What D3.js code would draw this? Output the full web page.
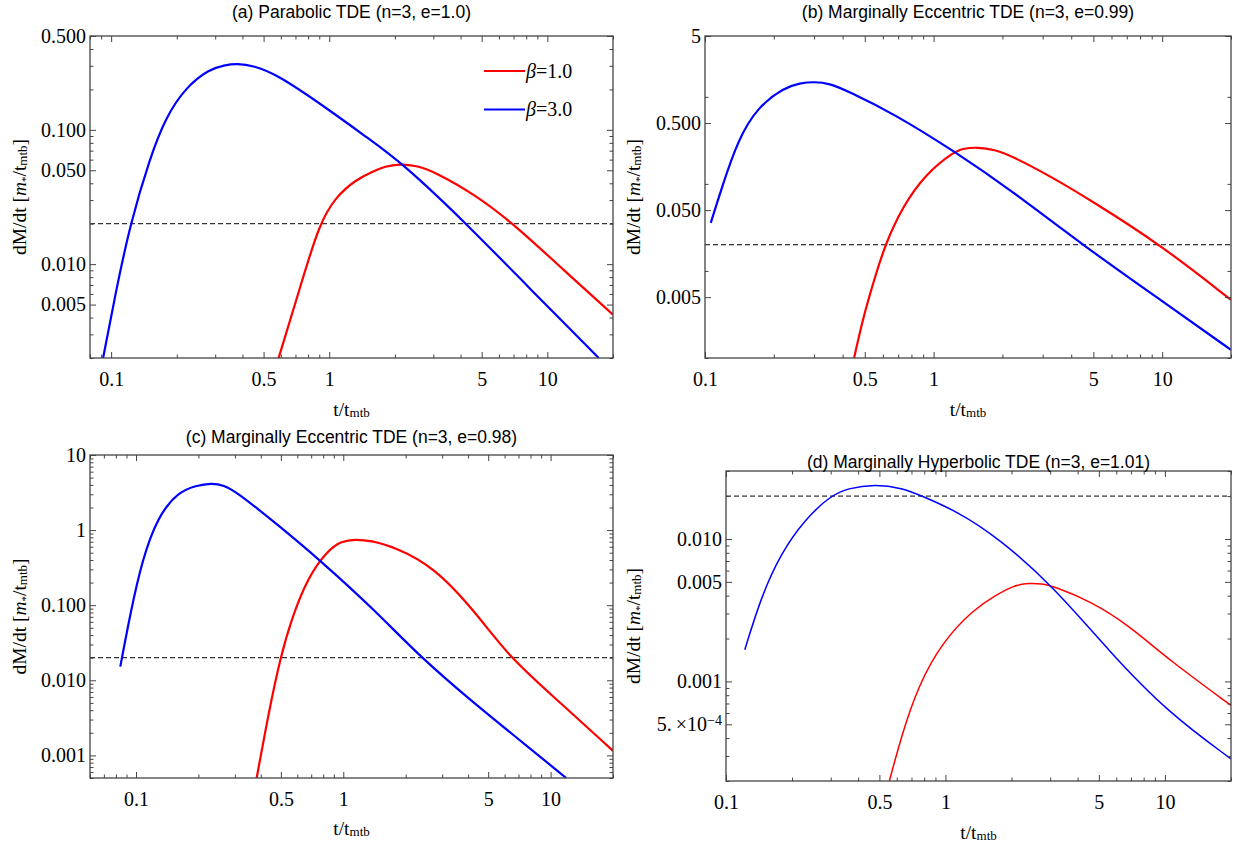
<!DOCTYPE html>
<html>
<head>
<meta charset="utf-8">
<script src="https://cdn.jsdelivr.net/npm/d3@7"></script>
<style>
  body { margin: 0; background: #fff; }
  .tick text { font-family: "Liberation Serif", "Times New Roman", serif; font-size: 20px; fill: #000; }
  .title { font-family: "Liberation Sans", Arial, sans-serif; font-size: 17.5px; fill: #000; }
  .serif { font-family: "Liberation Serif", "Times New Roman", serif; font-size: 19.5px; fill: #000; }
</style>
</head>
<body>
<svg id="chart"></svg>
<script>
/* tick labels */
var xTickVals = [0.1, 0.5, 1, 5, 10];
var xTickText = ["0.1", "0.5", "1", "5", "10"];

var aYTickVals = [0.5, 0.1, 0.05, 0.01, 0.005];
var aYTickText = ["0.500", "0.100", "0.050", "0.010", "0.005"];
var bYTickVals = [5, 0.5, 0.05, 0.005];
var bYTickText = ["5", "0.500", "0.050", "0.005"];
var bYMinorVals = [1, 0.1, 0.01, 0.001];
var cYTickVals = [10, 1, 0.1, 0.01, 0.001];
var cYTickText = ["10", "1", "0.100", "0.010", "0.001"];
var dYTickVals = [0.01, 0.005, 0.001, 0.0005];
var dYTickText = ["0.010", "0.005", "0.001", "5.×10^-4"];

var seriesNames = ["1.0", "3.0"];   // beta
var threshold = 0.02;               // dashed level

/* (a) parabolic, e=1.0 */
var aRedT  = [0.586, 0.737, 0.90, 1.07, 1.32, 1.6, 1.8, 2.1, 2.5, 3.04, 4.6, 7.0, 12, 20];
var aRedV  = [0.002, 0.0068, 0.02, 0.0316, 0.0424, 0.0494, 0.0534, 0.0557, 0.0543, 0.0487, 0.0334, 0.02, 0.0089, 0.0042];
var aBlueT = [0.0919, 0.105, 0.1224, 0.151, 0.178, 0.2195, 0.282, 0.33, 0.378, 0.45, 0.574, 0.986, 1.5, 2.18, 4.26, 8, 17.2];
var aBlueV = [0.002, 0.0062, 0.02, 0.0626, 0.124, 0.207, 0.283, 0.303, 0.312, 0.300, 0.26, 0.143, 0.087, 0.056, 0.02, 0.0070, 0.002];

/* (b) e=0.99 */
var bRedT  = [0.449, 0.493, 0.555, 0.613, 0.73, 0.924, 1.24, 1.35, 1.55, 1.85, 2.19, 3.29, 4.88, 9.9, 20];
var bRedV  = [0.001, 0.003, 0.0086, 0.0198, 0.0543, 0.131, 0.238, 0.255, 0.264, 0.248, 0.21, 0.12, 0.0645, 0.0198, 0.00465];
var bBlueT = [0.106, 0.1186, 0.139, 0.169, 0.223, 0.26, 0.30, 0.35, 0.42, 0.675, 1.22, 2.19, 4.49, 10, 20];
var bBlueV = [0.0357, 0.0919, 0.314, 0.757, 1.28, 1.44, 1.49, 1.43, 1.17, 0.633, 0.241, 0.084, 0.0198, 0.0045, 0.00124];

/* (c) e=0.98 */
var cRedT  = [0.382, 0.436, 0.497, 0.567, 0.676, 0.841, 0.98, 1.146, 1.35, 1.77, 2.74, 4.28, 6.34, 10.3, 20];
var cRedV  = [0.0005, 0.00365, 0.0202, 0.0698, 0.2375, 0.537, 0.716, 0.753, 0.727, 0.594, 0.324, 0.085, 0.0202, 0.0061, 0.00115];
var cBlueT = [0.084, 0.0939, 0.107, 0.127, 0.159, 0.195, 0.231, 0.265, 0.307, 0.477, 0.774, 1.42, 2.36, 4.28, 6.6, 11.9];
var cBlueV = [0.0152, 0.0776, 0.396, 1.49, 3.19, 3.93, 4.21, 3.98, 3.19, 1.21, 0.396, 0.0858, 0.0202, 0.00494, 0.00188, 0.0005];

/* (d) e=1.01 */
var dRedT  = [0.555, 0.636, 0.751, 0.962, 1.34, 1.71, 2.05, 2.38, 2.75, 3.1, 4.6, 6.93, 10.4, 20];
var dRedV  = [0.0002, 0.000434, 0.000926, 0.00187, 0.0032, 0.00406, 0.00472, 0.0049, 0.00485, 0.00466, 0.00365, 0.00244, 0.00142, 0.000679];
var dBlueT = [0.1218, 0.1448, 0.178, 0.228, 0.2977, 0.358, 0.477, 0.636, 0.783, 1.13, 1.71, 3.1, 5.63, 10.4, 20];
var dBlueV = [0.00167, 0.00395, 0.00794, 0.0136, 0.02, 0.0227, 0.0243, 0.0228, 0.02, 0.0156, 0.0104, 0.00466, 0.00159, 0.0006, 0.000286];

var colors = ["#ff0000", "#0000ff"];

var panels = [
  { id: "a", title: "(a) Parabolic TDE (n=3, e=1.0)", left: 90, right: 613, top: 36, bottom: 358,
    xDom: [0.08, 20], yDom: [0.002, 0.5], yTicks: aYTickVals, yText: aYTickText, yMinor: null,
    series: [[aRedT, aRedV], [aBlueT, aBlueV]], titleY: 18, yTitleX: 26, xTitleY: 416, lw: 2.2, legend: true },
  { id: "b", title: "(b) Marginally Eccentric TDE (n=3, e=0.99)", left: 705, right: 1231, top: 36, bottom: 358,
    xDom: [0.1, 20], yDom: [0.001, 5], yTicks: bYTickVals, yText: bYTickText, yMinor: bYMinorVals,
    series: [[bRedT, bRedV], [bBlueT, bBlueV]], titleY: 18, yTitleX: 640, xTitleY: 416, lw: 2.2 },
  { id: "c", title: "(c) Marginally Eccentric TDE (n=3, e=0.98)", left: 90, right: 613, top: 455, bottom: 778,
    xDom: [0.06, 20], yDom: [0.0005, 10], yTicks: cYTickVals, yText: cYTickText, yMinor: null,
    series: [[cRedT, cRedV], [cBlueT, cBlueV]], titleY: 443, yTitleX: 26, xTitleY: 835, lw: 2.2 },
  { id: "d", title: "(d) Marginally Hyperbolic TDE (n=3, e=1.01)", left: 726, right: 1231, top: 471, bottom: 781,
    xDom: [0.1, 20], yDom: [0.0002, 0.03], yTicks: dYTickVals, yText: dYTickText, yMinor: null,
    series: [[dRedT, dRedV], [dBlueT, dBlueV]], titleY: 468, yTitleX: 640, xTitleY: 839, lw: 1.5 }
];

var svg = d3.select("#chart").attr("width", 1233).attr("height", 844);
var defs = svg.append("defs");

function logMinor(dom, major) {
  var out = [];
  for (var e = -5; e <= 2; e++) {
    for (var m = 1; m <= 9; m++) {
      var v = +(m * Math.pow(10, e)).toPrecision(6);
      if (v >= dom[0] * 0.999 && v <= dom[1] * 1.001 && major.indexOf(v) < 0) out.push(v);
    }
  }
  return out;
}

function noDomain(sel) { sel.select(".domain").remove(); }

function drawPanel(p) {
  var w = p.right - p.left, h = p.bottom - p.top;
  var x = d3.scaleLog().domain(p.xDom).range([0, w]);
  var y = d3.scaleLog().domain(p.yDom).range([h, 0]);
  var g = svg.append("g").attr("transform", `translate(${p.left},${p.top})`);

  defs.append("clipPath").attr("id", "clip-" + p.id)
    .append("rect").attr("width", w).attr("height", h);

  /* dashed threshold */
  g.append("line")
    .attr("x1", 0).attr("x2", w)
    .attr("y1", y(threshold)).attr("y2", y(threshold))
    .attr("stroke", "#000").attr("stroke-width", 1)
    .attr("stroke-dasharray", "5,3");

  /* curves */
  var line = d3.line()
    .x(d => x(d[0]))
    .y(d => y(d[1]))
    .curve(d3.curveBasis);

  p.series.forEach(function (s, i) {
    g.append("path")
      .datum(d3.zip(s[0], s[1]))
      .attr("d", line)
      .attr("fill", "none")
      .attr("stroke", colors[i])
      .attr("stroke-width", p.lw)
      .attr("clip-path", `url(#clip-${p.id})`);
  });

  /* ticks, inside the frame on all four sides */
  var xMinor = logMinor(p.xDom, xTickVals);
  var yMinor = p.yMinor || logMinor(p.yDom, p.yTicks);
  var axColor = "#444";

  g.append("g").attr("transform", `translate(0,${h})`).attr("color", axColor)
    .call(d3.axisBottom(x).tickValues(xTickVals).tickFormat((d, i) => xTickText[i]).tickSize(-6).tickPadding(14))
    .call(noDomain);
  g.append("g").attr("transform", `translate(0,${h})`).attr("color", axColor)
    .call(d3.axisBottom(x).tickValues(xMinor).tickFormat("").tickSize(-3.5))
    .call(noDomain);
  g.append("g").attr("color", axColor)
    .call(d3.axisTop(x).tickValues(xTickVals).tickFormat("").tickSize(-6))
    .call(noDomain);
  g.append("g").attr("color", axColor)
    .call(d3.axisTop(x).tickValues(xMinor).tickFormat("").tickSize(-3.5))
    .call(noDomain);

  var yAx = g.append("g").attr("color", axColor)
    .call(d3.axisLeft(y).tickValues(p.yTicks).tickFormat((d, i) => p.yText[i]).tickSize(-6).tickPadding(4))
    .call(noDomain);
  g.append("g").attr("color", axColor)
    .call(d3.axisLeft(y).tickValues(yMinor).tickFormat("").tickSize(-3.5))
    .call(noDomain);
  g.append("g").attr("transform", `translate(${w},0)`).attr("color", axColor)
    .call(d3.axisRight(y).tickValues(p.yTicks).tickFormat("").tickSize(-6))
    .call(noDomain);
  g.append("g").attr("transform", `translate(${w},0)`).attr("color", axColor)
    .call(d3.axisRight(y).tickValues(yMinor).tickFormat("").tickSize(-3.5))
    .call(noDomain);

  /* 5.x10^-4 style label */
  yAx.selectAll(".tick text").each(function () {
    var t = d3.select(this), s = t.text();
    if (s.indexOf("^") > 0) {
      var parts = s.split("^");
      t.text(parts[0].replace("×", "\u2009×"));
      t.append("tspan").attr("dy", "-0.45em").style("font-size", "14px").text(parts[1].replace("-", "\u2212"));
    }
  });

  /* frame */
  g.append("rect").attr("width", w).attr("height", h)
    .attr("fill", "none").attr("stroke", axColor).attr("stroke-width", 1.3);

  /* title */
  svg.append("text").attr("class", "title")
    .attr("x", (p.left + p.right) / 2).attr("y", p.titleY)
    .attr("text-anchor", "middle").text(p.title);

  /* x title */
  var xt = svg.append("text").attr("class", "serif")
    .attr("x", (p.left + p.right) / 2).attr("y", p.xTitleY).attr("text-anchor", "middle");
  xt.append("tspan").text("t/t");
  xt.append("tspan").style("font-size", "13px").attr("dy", 1).text("mtb");

  /* y title */
  var yt = svg.append("text").attr("class", "serif")
    .attr("transform", `translate(${p.yTitleX},${(p.top + p.bottom) / 2}) rotate(-90)`)
    .attr("text-anchor", "middle");
  yt.append("tspan").text("dM/dt [");
  yt.append("tspan").style("font-style", "italic").text("m");
  yt.append("tspan").style("font-size", "11px").attr("dy", 3).text("*");
  yt.append("tspan").attr("dy", -3).text("/t");
  yt.append("tspan").style("font-size", "13px").attr("dy", 1).text("mtb");
  yt.append("tspan").attr("dy", -1).text("]");

  /* legend */
  if (p.legend) {
    var lg = svg.append("g").attr("transform", "translate(484,71)");
    seriesNames.forEach(function (name, i) {
      lg.append("line").attr("x1", 0).attr("x2", 41).attr("y1", i * 38.5).attr("y2", i * 38.5)
        .attr("stroke", colors[i]).attr("stroke-width", p.lw);
      var tx = lg.append("text").attr("class", "serif").style("font-size", "20px")
        .attr("x", 42).attr("y", i * 38.5 + 6.5);
      tx.append("tspan").style("font-style", "italic").text("β");
      tx.append("tspan").text("=" + name);
    });
  }
}

panels.forEach(drawPanel);
</script>
</body>
</html>
